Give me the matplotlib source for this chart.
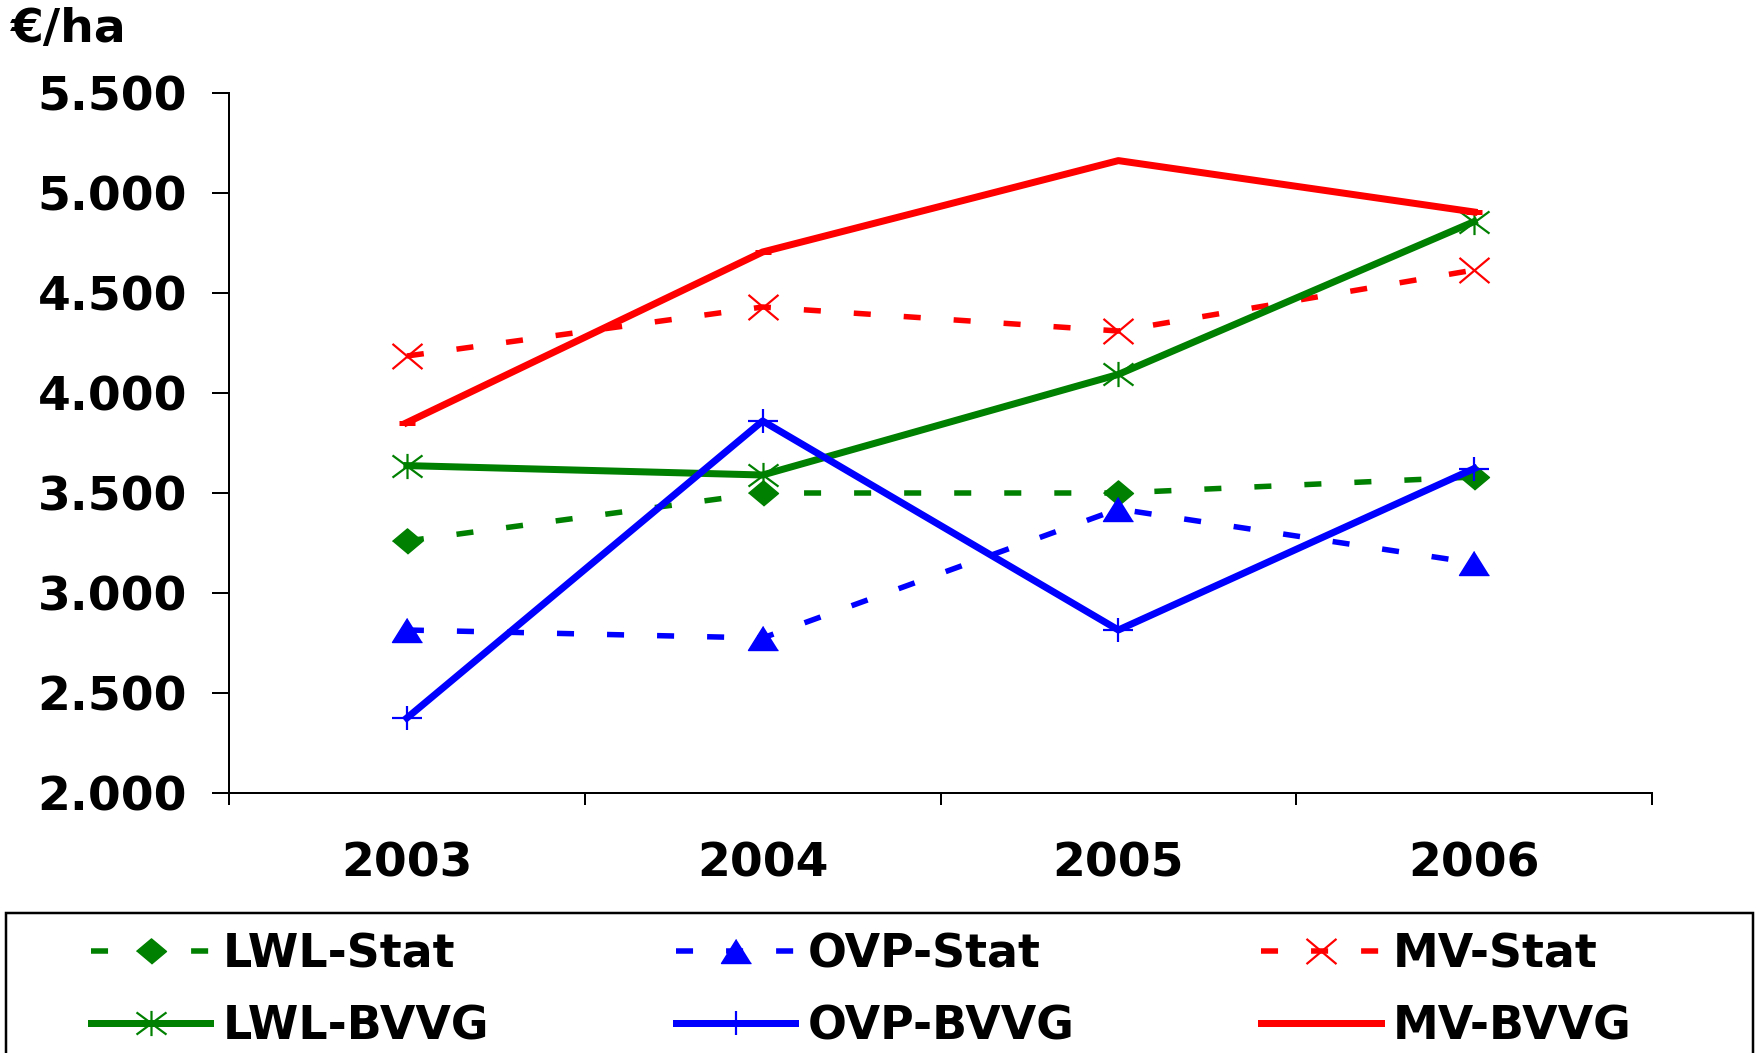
"""Land price chart: statistic vs BVVG per region, 2003-2006."""

import matplotlib

matplotlib.use("Agg")
import matplotlib.pyplot as plt
from matplotlib.patches import Rectangle
from matplotlib.lines import Line2D
from matplotlib.path import Path

plt.rcParams["font.family"] = ["DejaVu Sans"]
plt.rcParams["font.weight"] = "bold"

years = ["2003", "2004", "2005", "2006"]
lwl_stat = [3260, 3500, 3500, 3580]
ovp_stat = [2815, 2775, 3420, 3150]
mv_stat = [4185, 4430, 4310, 4615]
lwl_bvvg = [3637, 3590, 4093, 4857]
ovp_bvvg = [2375, 3860, 2815, 3622]
mv_bvvg = [3852, 4705, 5162, 4905]

y_ticks = [2000, 2500, 3000, 3500, 4000, 4500, 5000, 5500]
y_tick_labels = ["2.000", "2.500", "3.000", "3.500", "4.000", "4.500", "5.000", "5.500"]

GREEN = "#008000"
BLUE = "#0000ff"
RED = "#ff0000"

PX = 0.72  # points per pixel at dpi 100
DASH = (3.1, 6.0)
FS = 34
LEG_FS = 33

# excel-like marker shapes
M, L = Path.MOVETO, Path.LINETO
diamond = [(-0.5, 0.0), (0.0, 0.42), (0.5, 0.0), (0.0, -0.42)]
triangle = [(0.0, 0.4), (-0.5, -0.4), (0.5, -0.4)]
cross = Path([(-0.5, -0.42), (0.5, 0.42), (-0.5, 0.42), (0.5, -0.42)], [M, L, M, L])
star = Path([(-0.5, -0.37), (0.5, 0.37), (-0.5, 0.37), (0.5, -0.37), (0, -0.42), (0, 0.42)],
            [M, L, M, L, M, L])
plus = Path([(-0.5, 0), (0.5, 0), (0, -0.39), (0, 0.39)], [M, L, M, L])

fig = plt.figure(figsize=(17.6, 10.53), dpi=100)
ax = fig.add_axes([229 / 1760, 1 - 793 / 1053, (1652 - 229) / 1760, (793 - 93) / 1053])

x = [1, 2, 3, 4]
dash_lw = 5.5 * PX
solid_lw = 7 * PX
mk = 30 * PX
mw = 2.2 * PX

ax.plot(x, lwl_stat, color=GREEN, lw=dash_lw, dashes=DASH, marker=diamond,
        ms=mk, mec=GREEN, mfc=GREEN, zorder=3)
ax.plot(x, ovp_stat, color=BLUE, lw=dash_lw, dashes=DASH, marker=triangle,
        ms=mk, mec=BLUE, mfc=BLUE, zorder=3)
ax.plot(x, mv_stat, color=RED, lw=dash_lw, dashes=DASH, marker=cross,
        ms=mk, mew=mw, mec=RED, mfc="none", zorder=3)
ax.plot(x, lwl_bvvg, color=GREEN, lw=solid_lw, marker=star,
        ms=mk, mew=mw, mec=GREEN, mfc="none", zorder=4)
ax.plot(x, ovp_bvvg, color=BLUE, lw=solid_lw, marker=plus,
        ms=mk, mew=mw, mec=BLUE, mfc="none", zorder=4)
ax.plot(x, mv_bvvg, color=RED, lw=solid_lw, marker="_",
        ms=16 * PX, mew=5 * PX, mec=RED, zorder=4)

ax.set_xlim(0.5, 4.5)
ax.set_ylim(2000, 5500)
ax.set_xticks(x)
ax.set_xticklabels(years)
ax.set_xticks([0.5, 1.5, 2.5, 3.5, 4.5], minor=True)
ax.set_yticks(y_ticks)
ax.set_yticklabels(y_tick_labels)

ax.spines["top"].set_visible(False)
ax.spines["right"].set_visible(False)
for side in ["left", "bottom"]:
    ax.spines[side].set_linewidth(2 * PX)

ax.tick_params(axis="x", which="major", length=0, pad=35, labelsize=FS)
ax.tick_params(axis="x", which="minor", length=12 * PX, width=2 * PX, direction="out")
ax.tick_params(axis="y", length=17 * PX, width=2 * PX, direction="out", pad=18, labelsize=FS)
for lab in ax.get_xticklabels() + ax.get_yticklabels():
    lab.set_fontweight("bold")

fig.text(11 / 1760, 1 - 42 / 1053, "€/ha", fontsize=FS, fontweight="bold",
         ha="left", va="baseline")

# legend handles (column-major order for ncol=3)
handles = [
    Line2D([], [], color=GREEN, lw=dash_lw, dashes=DASH, marker=diamond,
           ms=mk, mfc=GREEN, mec=GREEN),
    Line2D([], [], color=GREEN, lw=solid_lw, marker=star, ms=mk, mew=mw,
           mec=GREEN, mfc="none"),
    Line2D([], [], color=BLUE, lw=dash_lw, dashes=DASH, marker=triangle,
           ms=mk, mfc=BLUE, mec=BLUE),
    Line2D([], [], color=BLUE, lw=solid_lw, marker=plus, ms=mk, mew=mw,
           mec=BLUE, mfc="none"),
    Line2D([], [], color=RED, lw=dash_lw, dashes=DASH, marker=cross,
           ms=mk, mew=mw, mec=RED, mfc="none"),
    Line2D([], [], color=RED, lw=solid_lw),
]
labels = ["LWL-Stat", "LWL-BVVG", "OVP-Stat", "OVP-BVVG", "MV-Stat", "MV-BVVG"]

fig.legend(handles, labels, ncol=3, loc="upper left",
           bbox_to_anchor=(91 / 1760, 1 - 932 / 1053), frameon=False,
           borderpad=0, borderaxespad=0, handlelength=2.6, handletextpad=0.27,
           columnspacing=4.08, labelspacing=0.6,
           prop={"family": "DejaVu Sans", "weight": "bold", "size": LEG_FS})

fig.add_artist(Rectangle((6 / 1760, -0.1), (1753 - 6) / 1760, 0.1 + 1 - 913 / 1053,
                         transform=fig.transFigure, fill=False, ec="black",
                         lw=2.5 * PX, clip_on=False))

fig.savefig("out.png", dpi=100)
plt.close(fig)
